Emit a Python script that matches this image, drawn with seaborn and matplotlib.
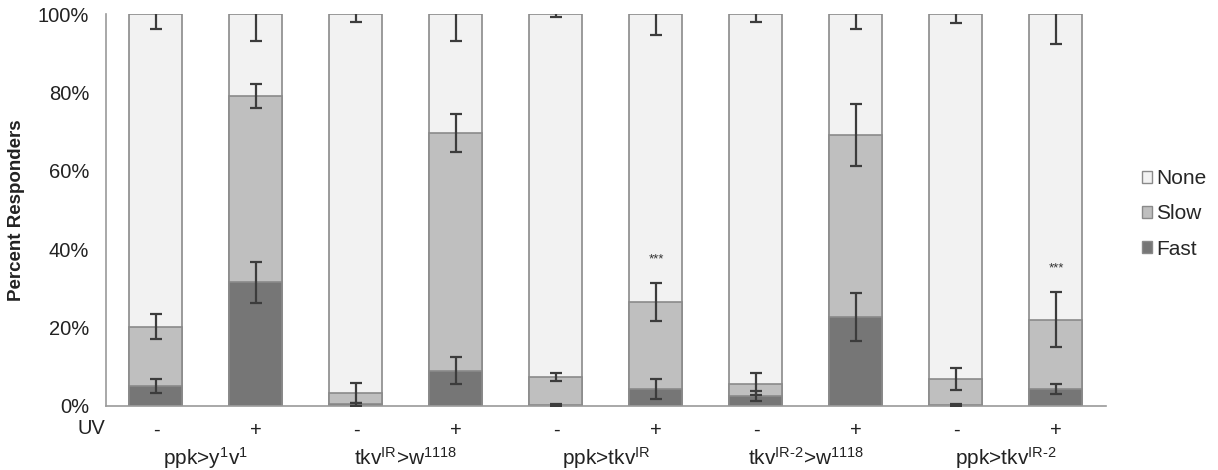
import numpy as np
import pandas as pd
import matplotlib
matplotlib.use("Agg")
import matplotlib.pyplot as plt
from matplotlib.patches import Patch
import seaborn as sns

# Genotypes (each tested without / with UV)
genotypes = [r"ppk>y$^{1}$v$^{1}$", r"tkv$^{IR}$>w$^{1118}$", r"ppk>tkv$^{IR}$",
             "tkv$^{IR\u20102}$>w$^{1118}$", "ppk>tkv$^{IR\u20102}$"]
uv = ["-", "+", "-", "+", "-", "+", "-", "+", "-", "+"]

# Percent of responders per condition
fast = [4.9, 31.5, 0.3, 8.9, 0.2, 4.3, 2.5, 22.6, 0.2, 4.3]
slow = [15.3, 47.5, 2.9, 60.8, 7.1, 22.1, 3.0, 46.5, 6.6, 17.6]
none = [79.8, 21.0, 96.8, 30.3, 92.7, 73.6, 94.5, 30.9, 93.2, 78.1]

# Standard errors
fast_err = [1.8, 5.3, 0.3, 3.4, 0.3, 2.6, 1.2, 6.2, 0.3, 1.3]
slow_err = [3.3, 3.1, 2.6, 4.8, 1.1, 4.9, 2.8, 7.9, 2.7, 7.0]
none_err = [3.7, 6.9, 2.0, 6.8, 0.8, 5.4, 1.9, 3.7, 2.4, 7.6]

# Significance marks
stars = ["", "", "", "", "", "***", "", "", "", "***"]

conds = [f"c{i}" for i in range(len(uv))]
df = pd.DataFrame({
    "cond": conds,
    "fast": fast,
    "slow_top": np.add(fast, slow),
    "none_top": np.add(np.add(fast, slow), none),
})

sns.set_style("white")
plt.rcParams["font.family"] = ["Liberation Sans", "DejaVu Sans"]
plt.rcParams["mathtext.default"] = "regular"

fig = plt.figure(figsize=(12.18, 4.70), dpi=100)
ax = fig.add_axes([0.087, 0.137, 0.821, 0.833])

c_none, c_slow, c_fast = "#f2f2f2", "#bfbfbf", "#767676"
edge = "#8a8a8a"
bw = 0.53
txt = "#222222"

for col, c in [("none_top", c_none), ("slow_top", c_slow), ("fast", c_fast)]:
    sns.barplot(data=df, x="cond", y=col, order=conds, color=c, width=bw,
                edgecolor=edge, linewidth=1.2, saturation=1, ax=ax)

xs = np.arange(len(conds))
ekw = dict(fmt="none", ecolor="#3c3c3c", elinewidth=1.6, capsize=4, capthick=1.6, zorder=5)
ax.errorbar(xs, df["fast"], yerr=fast_err, **ekw)
ax.errorbar(xs, df["slow_top"], yerr=slow_err, **ekw)
ax.errorbar(xs, df["none_top"], yerr=none_err, **ekw)

for x, top, s, e in zip(xs, df["slow_top"], stars, slow_err):
    if s:
        ax.text(x, top + e + 4.5, s, ha="center", va="bottom", fontsize=9.5, color="#333333")

ax.set_xlim(-0.5, len(conds) - 0.5)
ax.set_ylim(0, 100)
ax.set_yticks([0, 20, 40, 60, 80, 100])
ax.set_yticklabels([f"{v}%" for v in [0, 20, 40, 60, 80, 100]], fontsize=14.5, color=txt)
ax.set_xticks(xs)
ax.set_xticklabels(uv, fontsize=14.5, color=txt)
ax.tick_params(axis="both", length=0)
ax.tick_params(axis="x", pad=11)
ax.tick_params(axis="y", pad=12)
ax.set_xlabel("")
ax.set_ylabel("Percent Responders", fontsize=13.5, fontweight="bold", labelpad=9, color=txt)

for side in ["top", "right"]:
    ax.spines[side].set_visible(False)
for side in ["left", "bottom"]:
    ax.spines[side].set_color("#9a9a9a")
    ax.spines[side].set_linewidth(1.2)

# UV row title and genotype names under each pair
ax.text(-0.51, -5.8, "UV", ha="right", va="center",
        fontsize=14.5, color=txt, clip_on=False)
for i, g in enumerate(genotypes):
    ax.text(2 * i + 0.5, -13.3, g, ha="center", va="center", fontsize=15,
            color=txt, clip_on=False)

handles = [Patch(facecolor=c_none, edgecolor=edge, label="None"),
           Patch(facecolor=c_slow, edgecolor=edge, label="Slow"),
           Patch(facecolor=c_fast, edgecolor=edge, label="Fast")]
fig.legend(handles=handles, loc="center left", bbox_to_anchor=(0.922, 0.545),
           frameon=False, fontsize=15, handlelength=0.5, handleheight=0.5,
           handletextpad=0.2, labelspacing=0.78)

fig.savefig("out.png", dpi=100)
